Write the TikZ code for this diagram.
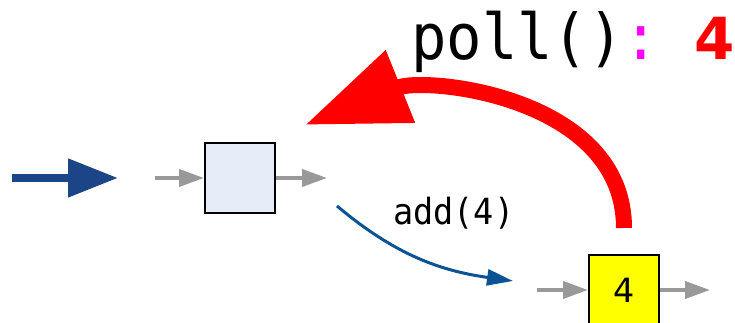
\documentclass[tikz,border=0pt]{standalone}
\usepackage{fontspec}
\setmainfont{DejaVu Sans}
\setsansfont{DejaVu Sans}
\setmonofont{DejaVu Sans Mono}[FakeStretch=0.93]
\usetikzlibrary{arrows.meta}

\definecolor{queueblue}{HTML}{1C4587}
\definecolor{addblue}{HTML}{0B5394}
\definecolor{cellblue}{HTML}{E6ECF8}
\definecolor{cellyellow}{HTML}{FFFF00}
\definecolor{linkgray}{HTML}{999999}
\definecolor{pollred}{HTML}{FF0000}
\definecolor{colonpink}{HTML}{FF00FF}

\begin{document}
\begin{tikzpicture}[x=0.02cm,y=-0.02cm]
		\tikzstyle{box} = [draw=black, line width=0.04cm, minimum size=1.4cm, inner sep=0, text centered, font=\fontsize{19}{21}\selectfont]
		\tikzstyle{link} = [-{Triangle[length=0.5cm,width=0.34cm]}, line width=0.08cm, linkgray]
		\tikzstyle{invisible} = [outer sep=0,inner sep=0,minimum size=0]
		\tikzstyle{enter} = [-{Triangle[length=1cm,width=0.74cm]}, line width=0.16cm, queueblue]
		\tikzstyle{addcall} = [-{Triangle[length=0.52cm,width=0.32cm]}, line width=0.06cm, addblue]
		\tikzstyle{pollcall} = [-{Triangle[length=2.06cm,width=1.48cm]}, line width=0.32cm, pollred]
		\useasboundingbox (0,0) rectangle (735,323);
		% incoming element
		\node [invisible] (e1) at (12,178) {};
		\node [invisible] (e2) at (118,178) {};
		\draw [enter] (e1) edge (e2);
		% front cell
		\node [box, fill=cellblue] (c1) at (240,178) {};
		\node [invisible] (c1in) at (155,178) {};
		\node [invisible] (c1out) at (327,178) {};
		\draw [link] (c1in) edge (c1);
		\draw [link] (c1) edge (c1out);
		% back cell
		\node [box, fill=cellyellow] (c2) at (624,290) {4};
		\node [invisible] (c2in) at (537,290) {};
		\node [invisible] (c2out) at (710,290) {};
		\draw [link] (c2in) edge (c2);
		\draw [link] (c2) edge (c2out);
		% add
		\node [invisible] (a1) at (337,206) {};
		\node [invisible] (a2) at (513,281) {};
		\draw [addcall,out=-40,in=172] (a1) edge (a2);
		\node [anchor=base west, font=\fontsize{20.5}{22}\ttfamily] (addlbl) at (387,225) {add(4)};
		% poll
		\node [invisible] (p1) at (624,228) {};
		\node [invisible] (p2) at (305,125) {};
		\draw [pollcall,out=90,in=22] (p1) edge (p2);
		\node [anchor=base west, inner sep=0, font=\fontsize{36}{40}\ttfamily] (polllbl) at (411,60) {poll()\textcolor{colonpink}{:} \textcolor{pollred}{\fontsize{33}{36}\sffamily\bfseries 4}};
\end{tikzpicture}
\end{document}
